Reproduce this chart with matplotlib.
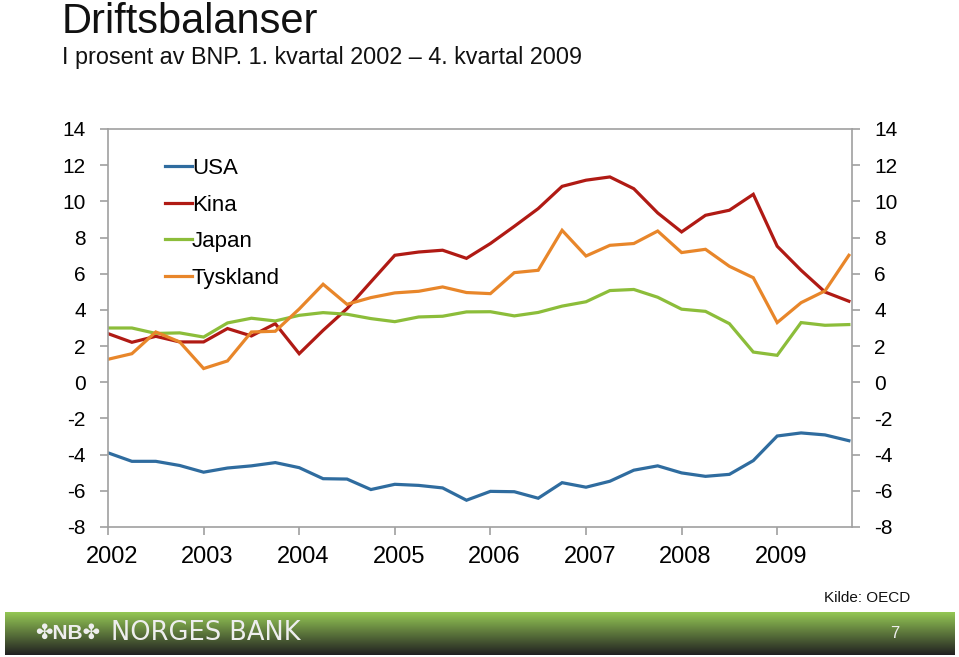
import numpy as np
import matplotlib
matplotlib.use("Agg")
import matplotlib.pyplot as plt
import matplotlib.transforms as mtrans

# kvartalsdata 2002K1 - 2009K4, prosent av BNP (lest av figuren)
years = ["2002", "2003", "2004", "2005", "2006", "2007", "2008", "2009"]

usa = [-3.90, -4.37, -4.37, -4.60, -4.97, -4.74, -4.62, -4.44,
       -4.72, -5.33, -5.35, -5.93, -5.64, -5.70, -5.84, -6.52,
       -6.03, -6.05, -6.41, -5.55, -5.80, -5.47, -4.86, -4.62,
       -5.01, -5.20, -5.09, -4.33, -2.97, -2.80, -2.91, -3.23]

kina = [2.69, 2.21, 2.54, 2.23, 2.23, 2.97, 2.56, 3.24,
        1.58, 2.87, 4.07, 5.55, 7.02, 7.20, 7.30, 6.85,
        7.67, 8.62, 9.60, 10.83, 11.17, 11.35, 10.70, 9.36,
        8.31, 9.23, 9.51, 10.39, 7.52, 6.19, 4.99, 4.48]

japan = [3.00, 3.00, 2.70, 2.73, 2.50, 3.28, 3.54, 3.39,
         3.70, 3.85, 3.76, 3.52, 3.35, 3.61, 3.65, 3.89,
         3.90, 3.67, 3.86, 4.21, 4.45, 5.07, 5.13, 4.70,
         4.04, 3.92, 3.24, 1.67, 1.49, 3.30, 3.15, 3.19]

tyskland = [1.27, 1.58, 2.78, 2.23, 0.76, 1.18, 2.78, 2.82,
            4.05, 5.42, 4.31, 4.68, 4.94, 5.03, 5.27, 4.96,
            4.90, 6.06, 6.19, 8.40, 6.98, 7.57, 7.67, 8.36,
            7.17, 7.35, 6.41, 5.78, 3.30, 4.40, 5.05, 7.02]

series = [("USA", usa, "#2f6c9f"),
          ("Kina", kina, "#b01a14"),
          ("Japan", japan, "#8cbd3a"),
          ("Tyskland", tyskland, "#e8862a")]

plt.rcParams['font.family'] = ['Liberation Sans', 'DejaVu Sans']
plt.rcParams['axes.unicode_minus'] = False
grey = "#a0a0a0"

fig = plt.figure(figsize=(9.59, 6.57), dpi=100)
ax = fig.add_axes([108/959, 1-527/657, 744/959, 398/657])

x = np.arange(len(usa))
for name, vals, col in series:
    ax.plot(x, vals, color=col, lw=2.3, label=name, solid_joinstyle='miter')

ax.set_xlim(0, 31.13)
ax.set_ylim(-8, 14)
ax.set_yticks(np.arange(-8, 15, 2))
ax.set_xticks(np.arange(0, 32, 4))
ax.set_xticklabels(years)

for s in ax.spines.values():
    s.set_color(grey)
    s.set_linewidth(1.2)
ax.tick_params(axis='y', which='both', left=True, right=True, labelleft=True,
               labelright=True, direction='out', length=6, width=1.2,
               color=grey, labelsize=15, pad=10)
ax.tick_params(axis='x', direction='out', length=6, width=1.2, color=grey,
               labelsize=17, pad=8)
# årstallene står litt til høyre for merket
shift = mtrans.ScaledTranslation(4/100, 0, fig.dpi_scale_trans)
for lab in ax.get_xticklabels():
    lab.set_transform(lab.get_transform() + shift)

leg = ax.legend(loc='upper left', bbox_to_anchor=(0.077, 0.927), frameon=False,
                fontsize=16, handlelength=1.2, handletextpad=0.0,
                labelspacing=0.7, borderpad=0, borderaxespad=0)

# tittel
fig.text(62/959, 1-33/657, "Driftsbalanser", fontsize=30, color="#111111",
         va='baseline', ha='left')
fig.text(62/959, 1-64/657, "I prosent av BNP. 1. kvartal 2002 \u2013 4. kvartal 2009",
         fontsize=16.8, color="#111111", va='baseline', ha='left')

fig.text(910/959, 1-598/657, "Kilde: OECD", fontsize=11, ha='right', va='center',
         color="#111111")

# bunnlinje med gradient
bar = fig.add_axes([5/959, 2/657, 950/959, 43/657])
top_c = np.array([0.58, 0.78, 0.33])
bot_c = np.array([0.13, 0.13, 0.13])
t = np.linspace(0, 1, 60)[:, None]
grad = (1 - t) * top_c + t * bot_c
bar.imshow(grad[:, None, :], aspect='auto', extent=[0, 1, 0, 1])
bar.set_axis_off()
bar.text(30/950, 0.5, "\u2724NB\u2724", color="#eeeeee", fontsize=15,
         fontweight='bold', va='center', ha='left', transform=bar.transAxes)
bar.text(106/950, 0.5, "NORGES BANK", color="#eeeeee", fontsize=18.5,
         va='center', ha='left', transform=bar.transAxes,
         family=['DejaVu Sans'])
bar.text(890/950, 0.5, "7", color="#eeeeee", fontsize=12, va='center',
         ha='center', transform=bar.transAxes)

fig.savefig("out.png", dpi=100)
